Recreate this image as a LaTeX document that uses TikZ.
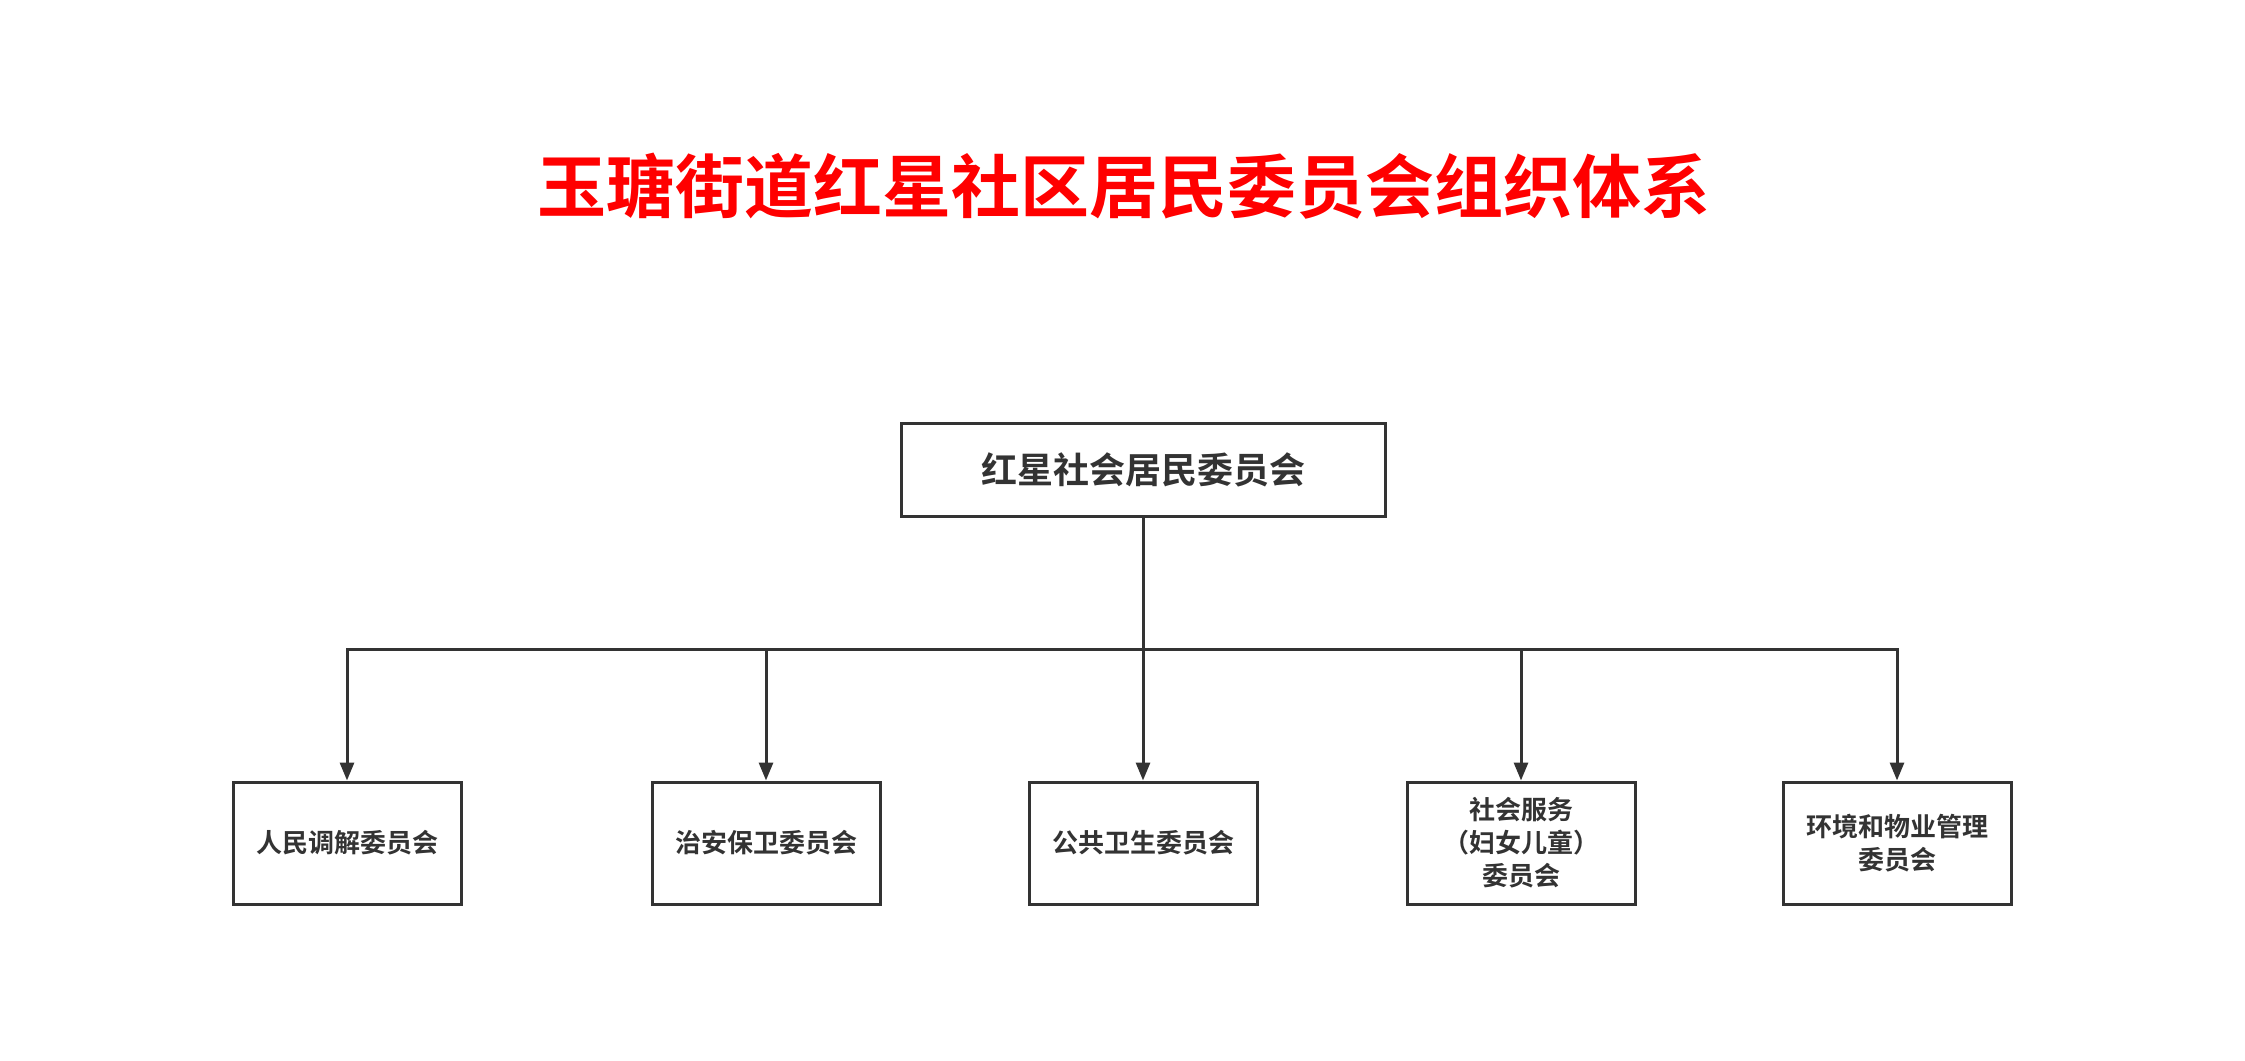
\documentclass[tikz,border=0pt]{standalone}
\usepackage{fontspec}
\newfontfamily\cjk{Noto Sans CJK SC}[BoldFont={Noto Sans CJK SC Bold}]
\usetikzlibrary{arrows.meta}
\definecolor{ink}{HTML}{333333}
\begin{document}
\begin{tikzpicture}[x=1pt,y=-1pt,
  box/.style={draw=ink,line width=3pt,fill=white,minimum width=228pt,minimum height=122pt,align=center,font=\cjk\bfseries\fontsize{26}{33}\selectfont,text=ink,inner sep=0pt},
  link/.style={draw=ink,line width=3pt,-{Triangle[length=18pt,width=14pt]}}]
\useasboundingbox (0,0) rectangle (2245,1060);
\fill[white] (0,0) rectangle (2245,1060);
\node[font=\cjk\bfseries\fontsize{69}{75}\selectfont,text=red] (title) at (1124,186) {玉瑭街道红星社区居民委员会组织体系};
\node[box,minimum width=484pt,minimum height=93pt,font=\cjk\bfseries\fontsize{36}{40}\selectfont] (top) at (1143,470) {红星社会居民委员会};
\node[box] (c1) at (347,843) {人民调解委员会};
\node[box] (c2) at (766,843) {治安保卫委员会};
\node[box] (c3) at (1143,843) {公共卫生委员会};
\node[box] (c4) at (1521,843) {社会服务\\（妇女儿童）\\委员会};
\node[box] (c5) at (1897,843) {环境和物业管理\\委员会};
\coordinate (j) at (1143,649);
\draw[draw=ink,line width=3pt] (top.south) -- (j);
\foreach \c in {c1,c2,c3,c4,c5}{
  \draw[link] (j) -| (\c.north);
}
\end{tikzpicture}
\end{document}
